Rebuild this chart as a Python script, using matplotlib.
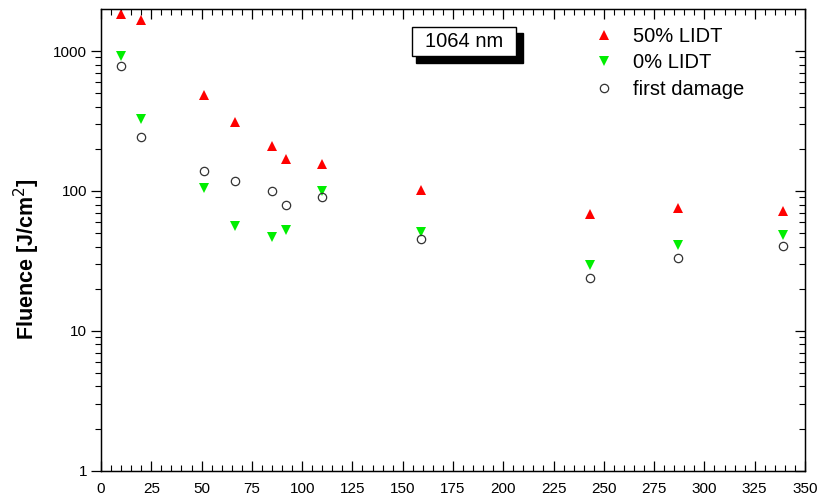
import matplotlib
matplotlib.use("Agg")
import matplotlib.pyplot as plt
from matplotlib.patches import Rectangle
from matplotlib.ticker import FixedLocator, NullFormatter, MultipleLocator

plt.rcParams["font.family"] = ["Liberation Sans", "DejaVu Sans"]

# pulse count / spot positions and measured fluences
xvals = [10, 20, 51, 66.5, 85, 92, 110, 159, 243, 287, 339]
lidt50 = [1850, 1660, 488, 313, 210, 170, 157, 102, 69, 75, 72]
lidt0 = [916, 329, 105, 56, 47, 52.4, 99.5, 50.5, 29.5, 41, 48.3]
firstdmg = [781, 243, 138, 118.6, 100.7, 80, 90.6, 45.7, 23.9, 33.4, 40.3]

xticks = list(range(0, 351, 25))
yticks = [1, 10, 100, 1000]

fig = plt.figure(figsize=(8.32, 4.99), dpi=100)
ax = fig.add_axes([0.1214, 0.0567, 0.8461, 0.9253])

ax.plot(xvals, lidt50, linestyle="none", marker="^", markersize=7,
        color="#ff0000", markeredgewidth=0, label="50% LIDT")
ax.plot(xvals, lidt0, linestyle="none", marker="v", markersize=7,
        color="#00ee00", markeredgewidth=0, label="0% LIDT")
ax.plot(xvals, firstdmg, linestyle="none", marker="o", markersize=6,
        markerfacecolor="none", markeredgecolor="#333333",
        markeredgewidth=0.9, label="first damage")

ax.set_yscale("log")
ax.set_xlim(0, 350)
ax.set_ylim(1, 2000)

ax.set_xticks(xticks)
ax.set_xticklabels([str(t) for t in xticks])
ax.xaxis.set_minor_locator(MultipleLocator(5))
ax.set_yticks(yticks)
ax.set_yticklabels([str(t) for t in yticks])
minors = [m * 10 ** d for d in range(0, 4) for m in range(2, 10) if m * 10 ** d < 2000]
ax.yaxis.set_minor_locator(FixedLocator(minors))
ax.yaxis.set_minor_formatter(NullFormatter())

ax.tick_params(axis="x", which="both", direction="in", top=True, labelsize=11,
               colors="black", pad=8)
ax.tick_params(axis="x", which="major", length=7, width=0.9)
ax.tick_params(axis="x", which="minor", length=4, width=0.8)
ax.tick_params(axis="y", which="both", direction="out", labelsize=11, pad=3)
ax.tick_params(axis="y", which="major", length=7, width=0.9)
ax.tick_params(axis="y", which="minor", length=4, width=0.8)
for side in ["left", "right", "top", "bottom"]:
    ax.spines[side].set_linewidth(1.0)

# right axis with inward ticks, no labels
axr = ax.twinx()
axr.set_yscale("log")
axr.set_ylim(1, 2000)
axr.set_yticks(yticks)
axr.yaxis.set_minor_locator(FixedLocator(minors))
axr.yaxis.set_major_formatter(NullFormatter())
axr.yaxis.set_minor_formatter(NullFormatter())
axr.tick_params(axis="y", which="both", direction="in")
axr.tick_params(axis="y", which="major", length=7, width=0.9)
axr.tick_params(axis="y", which="minor", length=4, width=0.8)

ax.set_ylabel("Fluence [J/cm$^2$]", fontsize=15.5, fontweight="bold")
ax.yaxis.set_label_coords(-0.084, 0.4585)

# wavelength tag with drop shadow
ax.add_patch(Rectangle((0.4474, 0.883), 0.152, 0.065, transform=ax.transAxes,
                       facecolor="black", edgecolor="black", zorder=4))
ax.add_patch(Rectangle((0.4418, 0.898), 0.1477, 0.063, transform=ax.transAxes,
                       facecolor="white", edgecolor="black", linewidth=1.0, zorder=5))
ax.text(0.5156, 0.9296, "1064 nm", transform=ax.transAxes, fontsize=14.5,
        ha="center", va="center", zorder=6)

ax.legend(loc="upper left", bbox_to_anchor=(0.6886, 0.979), frameon=False,
          fontsize=14.5, handletextpad=0.95, labelspacing=0.38, borderaxespad=0,
          handlelength=1.0)

fig.savefig("out.png", dpi=100)
